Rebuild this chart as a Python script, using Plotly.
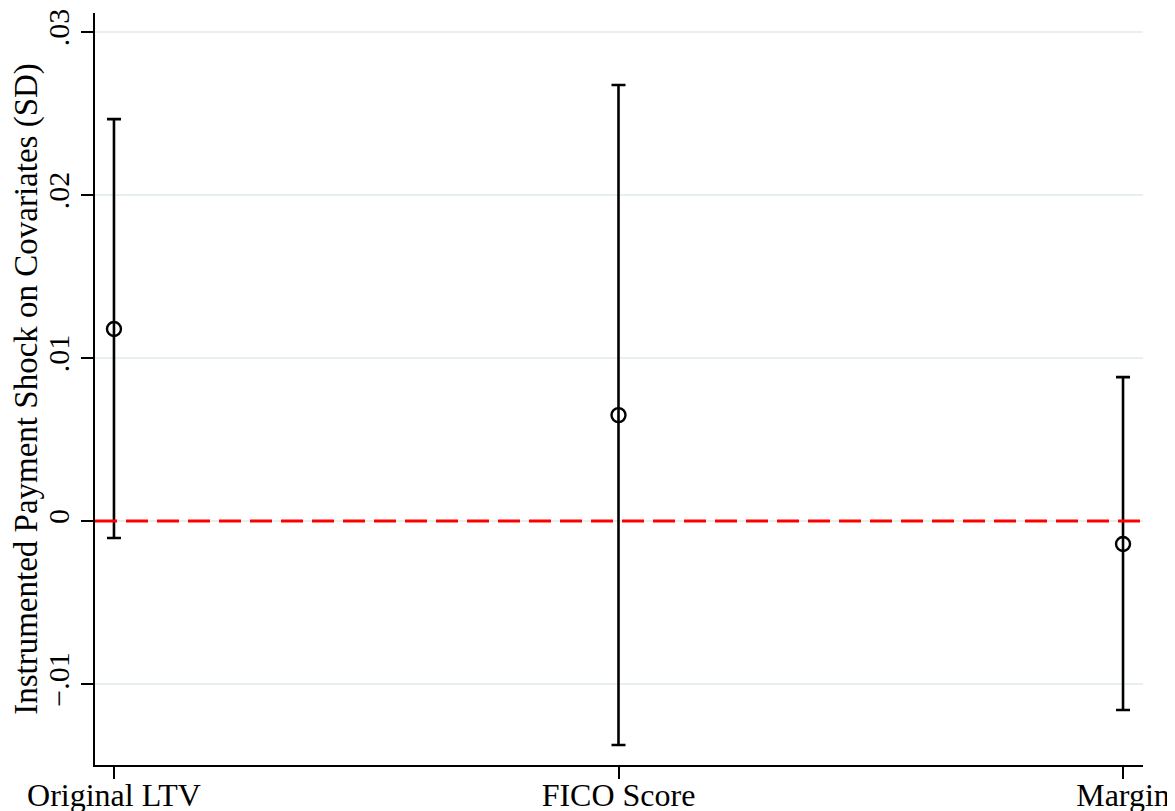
import plotly.graph_objects as go

categories = ["Original LTV", "FICO Score", "Margin"]
cat_pos = [1, 2, 3]
estimates = [0.01178, 0.0065, -0.00141]
ci_upper = [0.02466, 0.02675, 0.00883]
ci_lower = [-0.00104, -0.01374, -0.0116]
ytick_vals = [-0.01, 0, 0.01, 0.02, 0.03]
ytick_text = ["\u2212.01", "0", ".01", ".02", ".03"]

err_plus = [u - e for u, e in zip(ci_upper, estimates)]
err_minus = [e - l for e, l in zip(estimates, ci_lower)]

FONT = "Liberation Serif"

fig = go.Figure()
fig.add_trace(go.Scatter(
    x=cat_pos, y=estimates, mode="markers",
    marker=dict(symbol="circle-open", size=14, color="black",
                line=dict(width=2.4, color="black")),
    error_y=dict(type="data", symmetric=False, array=err_plus,
                 arrayminus=err_minus, color="black", thickness=2.6, width=7),
    showlegend=False,
))
fig.add_hline(y=0, line=dict(color="#ff0000", width=3, dash="22px,9px"))

# page body has an 8px default margin, so the figure is 8px smaller
fig.update_layout(
    width=1167, height=803,
    margin=dict(l=87, r=32, t=5, b=46, autoexpand=False),
    plot_bgcolor="white", paper_bgcolor="white",
    font=dict(family=FONT, size=30, color="black"),
    xaxis=dict(
        range=[0.9624, 3.0396], tickvals=cat_pos, ticktext=categories,
        showgrid=False, zeroline=False, showline=True, linecolor="black",
        linewidth=1.8, ticks="outside", ticklen=12, tickwidth=1.8,
        tickcolor="black", tickfont=dict(family=FONT, size=32),
        automargin=False, ticklabelstandoff=-11,
    ),
    yaxis=dict(
        range=[-0.01497, 0.03117], tickvals=ytick_vals, ticktext=ytick_text,
        tickangle=-90, showgrid=True, gridcolor="#e8eff1", gridwidth=2,
        zeroline=False, showline=True, linecolor="black", linewidth=1.8,
        ticks="outside", ticklen=12, tickwidth=1.8, tickcolor="black",
        tickfont=dict(family=FONT, size=30), automargin=False,
        title=dict(text="Instrumented Payment Shock on Covariates (SD)",
                   font=dict(family=FONT, size=33), standoff=4),
    ),
)

fig.write_html("out.html")
